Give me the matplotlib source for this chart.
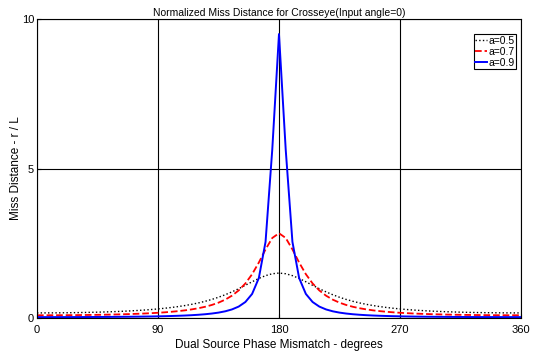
import matplotlib.pyplot as plt
import numpy as np

plt.rcParams['font.family'] = ['Liberation Sans Narrow', 'Liberation Sans', 'DejaVu Sans']

# phase mismatch, degrees (5 degree steps)
phase = list(range(0, 365, 5))

# a = 0.5
r_05 = [0.1667, 0.1669, 0.1678, 0.1692, 0.1713, 0.1739, 0.1772, 0.1812, 0.1860, 0.1916,
        0.1981, 0.2056, 0.2143, 0.2242, 0.2355, 0.2485, 0.2634, 0.2804, 0.3000, 0.3225,
        0.3484, 0.3783, 0.4130, 0.4532, 0.5000, 0.5544, 0.6176, 0.6907, 0.7749, 0.8704,
        0.9766, 1.0911, 1.2085, 1.3201, 1.4141, 1.4775, 1.5000,
        1.4775, 1.4141, 1.3201, 1.2085, 1.0911, 0.9766, 0.8704, 0.7749, 0.6907, 0.6176,
        0.5544, 0.5000, 0.4532, 0.4130, 0.3783, 0.3484, 0.3225, 0.3000, 0.2804, 0.2634,
        0.2485, 0.2355, 0.2242, 0.2143, 0.2056, 0.1981, 0.1916, 0.1860, 0.1812, 0.1772,
        0.1739, 0.1713, 0.1692, 0.1678, 0.1669, 0.1667]

# a = 0.7
r_07 = [0.0882, 0.0884, 0.0889, 0.0897, 0.0909, 0.0924, 0.0944, 0.0967, 0.0995, 0.1028,
        0.1067, 0.1112, 0.1164, 0.1225, 0.1295, 0.1377, 0.1471, 0.1582, 0.1711, 0.1864,
        0.2045, 0.2261, 0.2522, 0.2839, 0.3228, 0.3712, 0.4321, 0.5100, 0.6107, 0.7430,
        0.9187, 1.1530, 1.4619, 1.8519, 2.2917, 2.6749, 2.8333,
        2.6749, 2.2917, 1.8519, 1.4619, 1.1530, 0.9187, 0.7430, 0.6107, 0.5100, 0.4321,
        0.3712, 0.3228, 0.2839, 0.2522, 0.2261, 0.2045, 0.1864, 0.1711, 0.1582, 0.1471,
        0.1377, 0.1295, 0.1225, 0.1164, 0.1112, 0.1067, 0.1028, 0.0995, 0.0967, 0.0944,
        0.0924, 0.0909, 0.0897, 0.0889, 0.0884, 0.0882]

# a = 0.9
r_09 = [0.0263, 0.0264, 0.0265, 0.0268, 0.0271, 0.0276, 0.0282, 0.0289, 0.0298, 0.0308,
        0.0320, 0.0334, 0.0351, 0.0370, 0.0392, 0.0417, 0.0448, 0.0483, 0.0525, 0.0575,
        0.0634, 0.0707, 0.0795, 0.0905, 0.1044, 0.1222, 0.1455, 0.1768, 0.2204, 0.2831,
        0.3783, 0.5318, 0.8013, 1.3318, 2.5442, 5.6346, 9.5000,
        5.6346, 2.5442, 1.3318, 0.8013, 0.5318, 0.3783, 0.2831, 0.2204, 0.1768, 0.1455,
        0.1222, 0.1044, 0.0905, 0.0795, 0.0707, 0.0634, 0.0575, 0.0525, 0.0483, 0.0448,
        0.0417, 0.0392, 0.0370, 0.0351, 0.0334, 0.0320, 0.0308, 0.0298, 0.0289, 0.0282,
        0.0276, 0.0271, 0.0268, 0.0265, 0.0264, 0.0263]

xticks = [0, 90, 180, 270, 360]
yticks = [0, 5, 10]

fig = plt.figure(figsize=(5.36, 3.54), dpi=100)
ax = fig.add_axes([0.069, 0.102, 0.903, 0.844])

ax.plot(phase, r_05, color="black", linestyle=":", linewidth=1.0, label="a=0.5")
ax.plot(phase, r_07, color="red", linestyle="--", linewidth=1.3, label="a=0.7")
ax.plot(phase, r_09, color="blue", linestyle="-", linewidth=1.4, label="a=0.9")

ax.set_xlim(0, 360)
ax.set_ylim(0, 10)
ax.set_xticks(xticks)
ax.set_yticks(yticks)
ax.grid(True, color="black", linewidth=0.8, linestyle="-")
ax.tick_params(direction="in", length=3, labelsize=8)
ax.tick_params(axis="x", pad=5)
ax.tick_params(axis="y", pad=2)
for s in ax.spines.values():
    s.set_linewidth(0.8)

ax.set_title("Normalized Miss Distance for Crosseye(Input angle=0)", fontsize=7.5, pad=2)
ax.set_xlabel("Dual Source Phase Mismatch - degrees", fontsize=8.5, labelpad=3)
ax.set_ylabel("Miss Distance - r / L", fontsize=8.5, labelpad=0)

leg = ax.legend(loc="upper right", bbox_to_anchor=(0.99, 0.95), fontsize=7.5,
                handlelength=1.1, handletextpad=0.15, borderpad=0.15, labelspacing=0.1,
                borderaxespad=0, fancybox=False, framealpha=1)
leg.get_frame().set_edgecolor("black")
leg.get_frame().set_linewidth(0.8)

fig.savefig("out.png", dpi=100)
